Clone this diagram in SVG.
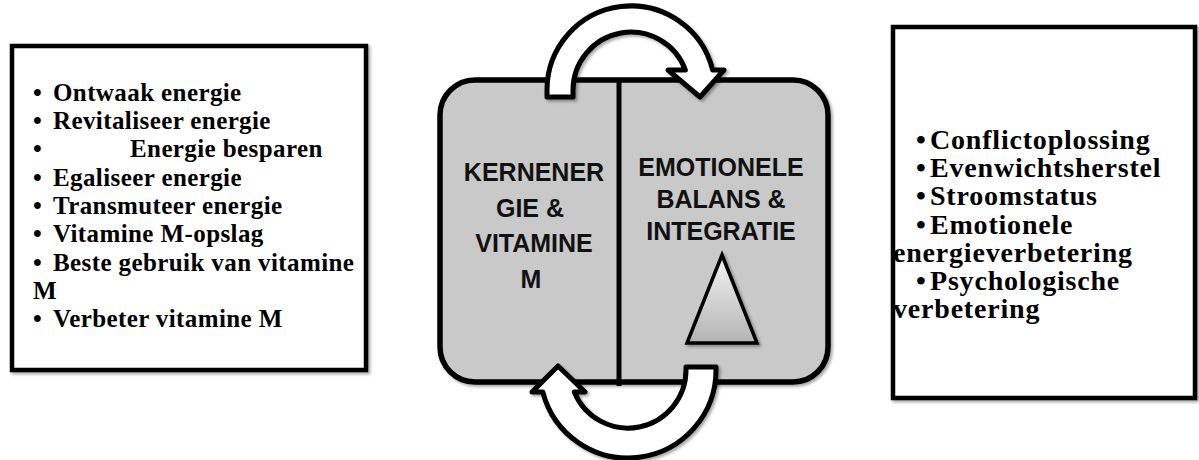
<svg xmlns="http://www.w3.org/2000/svg" width="1199" height="460" viewBox="0 0 1199 460">
  <style>
    .box { fill: #ffffff; stroke: #000000; stroke-width: 4.5; }
    .core { fill: #c9c9c9; stroke: #000000; stroke-width: 5.5; }
    .divider { stroke: #000000; stroke-width: 5; }
    .arrow { fill: #ffffff; stroke: #000000; stroke-width: 5; stroke-linejoin: round; }
    .tri { stroke: #000000; stroke-width: 3.5; stroke-linejoin: miter; }
    .lt { font-family: "Liberation Serif", "Times New Roman", serif; font-weight: bold; font-size: 25px; letter-spacing: 0.4px; fill: #000000; }
    .rt { font-family: "Liberation Serif", "Times New Roman", serif; font-weight: bold; font-size: 28px; letter-spacing: 0.8px; fill: #000000; }
    .ct { font-family: "Liberation Sans", Arial, sans-serif; font-weight: bold; font-size: 25px; fill: #111111; text-anchor: middle; }
  </style>
  <defs>
    <filter id="shadow" x="-10%" y="-10%" width="120%" height="120%">
      <feDropShadow dx="2" dy="2" stdDeviation="1.5" flood-color="#000000" flood-opacity="0.35"/>
    </filter>
    <linearGradient id="triGrad" x1="0" y1="0" x2="0" y2="1">
      <stop offset="0" stop-color="#f4f4f4"/>
      <stop offset="1" stop-color="#b3b3b3"/>
    </linearGradient>
  </defs>

  <g id="left-box">
    <rect class="box" x="12" y="46" width="354" height="324" filter="url(#shadow)"/>
    <text class="lt" x="33" y="101">•</text><text class="lt" x="53" y="101">Ontwaak energie</text>
    <text class="lt" x="33" y="129">•</text><text class="lt" x="53" y="129">Revitaliseer energie</text>
    <text class="lt" x="33" y="157">•</text><text class="lt" x="130" y="157">Energie besparen</text>
    <text class="lt" x="33" y="186">•</text><text class="lt" x="53" y="186">Egaliseer energie</text>
    <text class="lt" x="33" y="214">•</text><text class="lt" x="53" y="214">Transmuteer energie</text>
    <text class="lt" x="33" y="242">•</text><text class="lt" x="53" y="242">Vitamine M-opslag</text>
    <text class="lt" x="33" y="271">•</text><text class="lt" x="53" y="271">Beste gebruik van vitamine</text>
    <text class="lt" x="33" y="299">M</text>
    <text class="lt" x="33" y="327">•</text><text class="lt" x="53" y="327">Verbeter vitamine M</text>
  </g>

  <g id="center-node">
    <rect class="core" x="440" y="80" width="388" height="302" rx="35" ry="35" filter="url(#shadow)"/>
    <line class="divider" x1="619" y1="80" x2="619" y2="386"/>
    <g id="core-energy">
      <text class="ct" x="534" y="181">KERNENER</text>
      <text class="ct" x="530" y="217">GIE &amp;</text>
      <text class="ct" x="534" y="252">VITAMINE</text>
      <text class="ct" x="531" y="288">M</text>
    </g>
    <g id="emotional-balance">
      <text class="ct" x="721" y="176">EMOTIONELE</text>
      <text class="ct" x="721" y="208">BALANS &amp;</text>
      <text class="ct" x="721" y="240">INTEGRATIE</text>
      <polygon class="tri" points="722,255 757,343 687,343" fill="url(#triGrad)" filter="url(#shadow)"/>
    </g>
  </g>

  <g id="right-box">
    <rect class="box" x="893" y="27" width="302" height="371" filter="url(#shadow)"/>
    <text class="rt" x="916" y="149">•</text><text class="rt" x="930" y="149">Conflictoplossing</text>
    <text class="rt" x="916" y="177">•</text><text class="rt" x="930" y="177">Evenwichtsherstel</text>
    <text class="rt" x="916" y="205">•</text><text class="rt" x="930" y="205">Stroomstatus</text>
    <text class="rt" x="916" y="234">•</text><text class="rt" x="930" y="234">Emotionele</text>
    <text class="rt" x="893" y="262">energieverbetering</text>
    <text class="rt" x="916" y="290">•</text><text class="rt" x="930" y="290">Psychologische</text>
    <text class="rt" x="893" y="318">verbetering</text>
  </g>

  <g id="connectors">
    <path class="arrow" filter="url(#shadow)" d="M 547,97 L 547,90 A 84 84 0 0 1 712.6,70 L 724,70 L 700,97 L 668,70 L 685.4,70 A 58 58 0 0 0 573,90 L 573,97 Z"/>
    <path class="arrow" filter="url(#shadow)" d="M 686,367 L 716,367 L 716,370 A 88 88 0 0 1 542.8,392 L 532,392 L 558,366 L 585,392 L 574.3,392 A 58 58 0 0 0 686,370 Z"/>
  </g>
</svg>
